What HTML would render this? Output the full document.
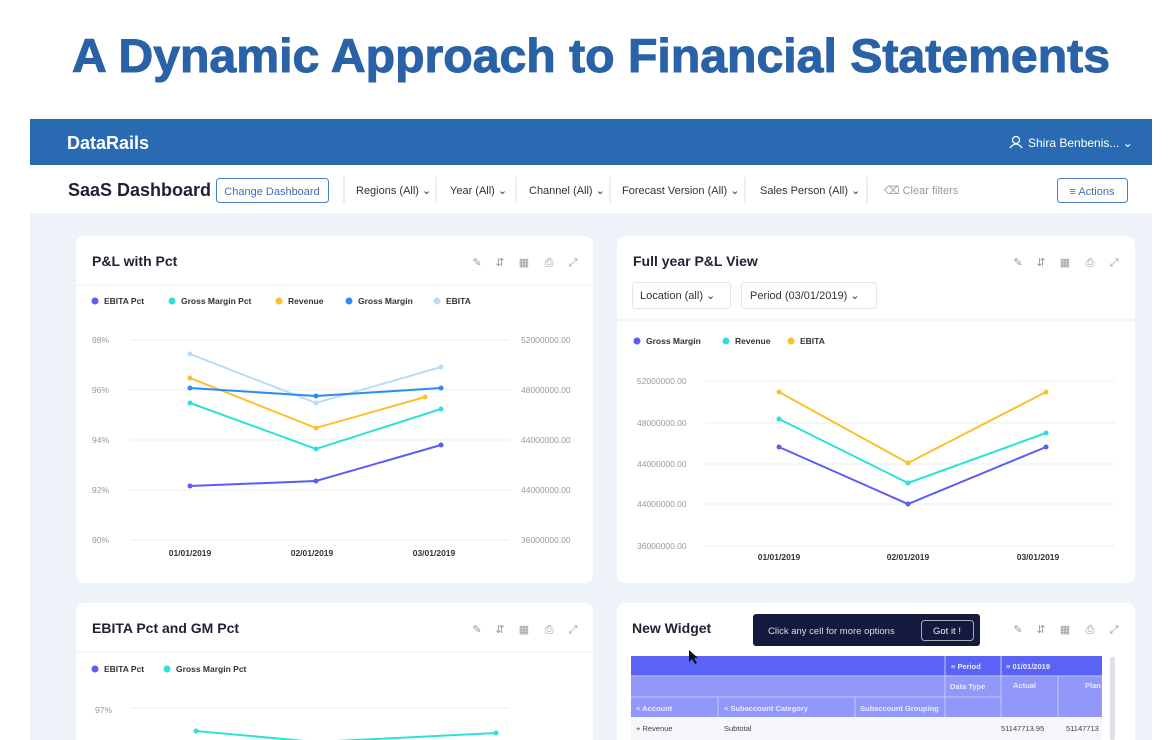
<!DOCTYPE html>
<html><head><meta charset="utf-8"><style>
html,body{margin:0;padding:0;width:1172px;height:740px;overflow:hidden;background:#fff;font-family:"Liberation Sans",sans-serif}
</style></head><body>
<svg width="1172" height="740" viewBox="0 0 1172 740" xmlns="http://www.w3.org/2000/svg" font-family="Liberation Sans, sans-serif">
<defs>
<g id="icons" font-size="11" fill="#999" text-anchor="middle">
<text x="0" y="0">✎</text><text x="23" y="0">⇵</text><text x="47" y="0">▦</text><text x="72" y="0">⎙</text><text x="96" y="0">⤢</text>
</g>
</defs>
<rect width="1172" height="740" fill="#fff"/>
<text x="72" y="72" textLength="1038" lengthAdjust="spacingAndGlyphs" font-size="47" font-weight="bold" fill="#2a62a8" stroke="#2a62a8" stroke-width="1">A Dynamic Approach to Financial Statements</text>
<rect x="30" y="119" width="1122" height="621" fill="#eef3fa"/>
<rect x="30" y="119" width="1122" height="46" fill="#2a6ab2"/>
<text x="67" y="149" font-size="18" font-weight="bold" fill="#fff">DataRails</text>
<circle cx="1016" cy="140" r="3.5" fill="none" stroke="#fff" stroke-width="1.3"/>
<path d="M1010 148 q6 -8 12 0" fill="none" stroke="#fff" stroke-width="1.3"/>
<text x="1028" y="147" font-size="12" fill="#fff">Shira Benbenis...  ⌄</text>
<rect x="30" y="165" width="1122" height="48" fill="#fff"/>
<text x="68" y="196" font-size="18" font-weight="bold" fill="#1e2233">SaaS Dashboard</text>
<rect x="216.5" y="178.5" width="112" height="24" rx="3" fill="#fff" stroke="#4a7fc4"/>
<text x="272" y="195" font-size="11" fill="#3f6fb5" text-anchor="middle">Change Dashboard</text>
<g font-size="11" fill="#333">
<text x="356" y="194">Regions (All) ⌄</text>
<text x="450" y="194">Year (All) ⌄</text>
<text x="529" y="194">Channel (All) ⌄</text>
<text x="622" y="194">Forecast Version (All) ⌄</text>
<text x="760" y="194">Sales Person (All) ⌄</text>
<text x="884" y="194" fill="#999">⌫  Clear filters</text>
</g>
<g stroke="#ddd"><line x1="344" y1="177" x2="344" y2="203"/><line x1="436" y1="177" x2="436" y2="203"/><line x1="516" y1="177" x2="516" y2="203"/><line x1="610" y1="177" x2="610" y2="203"/><line x1="745" y1="177" x2="745" y2="203"/><line x1="867" y1="177" x2="867" y2="203"/></g>
<rect x="1057.5" y="178.5" width="70" height="24" rx="3" fill="#fff" stroke="#4a7fc4"/>
<text x="1092" y="195" font-size="11" fill="#3f6fb5" text-anchor="middle">≡ Actions</text>

<rect x="76" y="236" width="517" height="347" rx="8" fill="#fff"/>
<rect x="617" y="236" width="518" height="347" rx="8" fill="#fff"/>
<rect x="76" y="603" width="517" height="150" rx="8" fill="#fff"/>
<rect x="617" y="603" width="518" height="150" rx="8" fill="#fff"/>
<line x1="76" y1="285" x2="593" y2="285" stroke="#eee"/>
<line x1="617" y1="320" x2="1135" y2="320" stroke="#eee"/>
<line x1="76" y1="652" x2="593" y2="652" stroke="#eee"/>
<g font-size="14" font-weight="bold" fill="#1e2233">
<text x="92" y="266">P&amp;L with Pct</text>
<text x="633" y="266">Full year P&amp;L View</text>
<text x="92" y="633">EBITA Pct and GM Pct</text>
<text x="632" y="633">New Widget</text>
</g>
<use href="#icons" x="477" y="266"/>
<use href="#icons" x="1018" y="266"/>
<use href="#icons" x="477" y="633"/>
<use href="#icons" x="1018" y="633"/>
<rect x="632.5" y="282.5" width="98" height="26" rx="3" fill="#fff" stroke="#e6e6e6"/>
<text x="640" y="299" font-size="11" fill="#333">Location (all)  ⌄</text>
<rect x="741.5" y="282.5" width="135" height="26" rx="3" fill="#fff" stroke="#e6e6e6"/>
<text x="750" y="299" font-size="11" fill="#333">Period (03/01/2019)  ⌄</text>

<g font-size="8.5" font-weight="bold" fill="#333">
<circle cx="95" cy="301" r="3.5" fill="#5b5ef0"/><text x="104" y="304">EBITA Pct</text>
<circle cx="172" cy="301" r="3.5" fill="#2de0d8"/><text x="181" y="304">Gross Margin Pct</text>
<circle cx="279" cy="301" r="3.5" fill="#fbc02d"/><text x="288" y="304">Revenue</text>
<circle cx="349" cy="301" r="3.5" fill="#2b8cf5"/><text x="358" y="304">Gross Margin</text>
<circle cx="437" cy="301" r="3.5" fill="#b8dcf8"/><text x="446" y="304">EBITA</text>
</g>
<g stroke="#e8ecf0"><line x1="130" y1="340" x2="510" y2="340"/><line x1="130" y1="390" x2="510" y2="390"/><line x1="130" y1="440" x2="510" y2="440"/><line x1="130" y1="490" x2="510" y2="490"/><line x1="130" y1="540" x2="510" y2="540"/></g>
<g font-size="8.5" fill="#999"><text x="92" y="343">98%</text><text x="92" y="393">96%</text><text x="92" y="443">94%</text><text x="92" y="493">92%</text><text x="92" y="543">90%</text>
<text x="521" y="343">52000000.00</text><text x="521" y="393">48000000.00</text><text x="521" y="443">44000000.00</text><text x="521" y="493">44000000.00</text><text x="521" y="543">36000000.00</text></g>
<g font-size="8.5" font-weight="bold" fill="#333" text-anchor="middle"><text x="190" y="556">01/01/2019</text><text x="312" y="556">02/01/2019</text><text x="434" y="556">03/01/2019</text></g>
<g fill="none" stroke-width="2">
<polyline points="190,354 316,403 441,367" stroke="#b8dcf8"/>
<polyline points="190,378 316,428 425,397" stroke="#fbc02d"/>
<polyline points="190,403 316,449 441,409" stroke="#2de0d8"/>
<polyline points="190,388 316,396 441,388" stroke="#2b8cf5"/>
<polyline points="190,486 316,481 441,445" stroke="#5b5ef0"/>
</g>
<g><circle cx="190" cy="354" r="2.5" fill="#b8dcf8"/><circle cx="316" cy="403" r="2.5" fill="#b8dcf8"/><circle cx="441" cy="367" r="2.5" fill="#b8dcf8"/>
<circle cx="190" cy="378" r="2.5" fill="#fbc02d"/><circle cx="316" cy="428" r="2.5" fill="#fbc02d"/><circle cx="425" cy="397" r="2.5" fill="#fbc02d"/>
<circle cx="190" cy="403" r="2.5" fill="#2de0d8"/><circle cx="316" cy="449" r="2.5" fill="#2de0d8"/><circle cx="441" cy="409" r="2.5" fill="#2de0d8"/>
<circle cx="190" cy="388" r="2.5" fill="#2b8cf5"/><circle cx="316" cy="396" r="2.5" fill="#2b8cf5"/><circle cx="441" cy="388" r="2.5" fill="#2b8cf5"/>
<circle cx="190" cy="486" r="2.5" fill="#5b5ef0"/><circle cx="316" cy="481" r="2.5" fill="#5b5ef0"/><circle cx="441" cy="445" r="2.5" fill="#5b5ef0"/></g>

<g font-size="8.5" font-weight="bold" fill="#333">
<circle cx="637" cy="341" r="3.5" fill="#5b5ef0"/><text x="646" y="344">Gross Margin</text>
<circle cx="726" cy="341" r="3.5" fill="#2de0d8"/><text x="735" y="344">Revenue</text>
<circle cx="791" cy="341" r="3.5" fill="#fbc02d"/><text x="800" y="344">EBITA</text>
</g>
<g stroke="#e8ecf0"><line x1="705" y1="381" x2="1115" y2="381"/><line x1="705" y1="423" x2="1115" y2="423"/><line x1="705" y1="464" x2="1115" y2="464"/><line x1="705" y1="504" x2="1115" y2="504"/><line x1="705" y1="546" x2="1115" y2="546"/></g>
<g font-size="8.5" fill="#999"><text x="637" y="384">52000000.00</text><text x="637" y="426">48000000.00</text><text x="637" y="467">44000000.00</text><text x="637" y="507">44000000.00</text><text x="637" y="549">36000000.00</text></g>
<g font-size="8.5" font-weight="bold" fill="#333" text-anchor="middle"><text x="779" y="560">01/01/2019</text><text x="908" y="560">02/01/2019</text><text x="1038" y="560">03/01/2019</text></g>
<g fill="none" stroke-width="2">
<polyline points="779,392 908,463 1046,392" stroke="#fbc02d"/>
<polyline points="779,419 908,483 1046,433" stroke="#2de0d8"/>
<polyline points="779,447 908,504 1046,447" stroke="#5b5ef0"/>
</g>
<g><circle cx="779" cy="392" r="2.5" fill="#fbc02d"/><circle cx="908" cy="463" r="2.5" fill="#fbc02d"/><circle cx="1046" cy="392" r="2.5" fill="#fbc02d"/>
<circle cx="779" cy="419" r="2.5" fill="#2de0d8"/><circle cx="908" cy="483" r="2.5" fill="#2de0d8"/><circle cx="1046" cy="433" r="2.5" fill="#2de0d8"/>
<circle cx="779" cy="447" r="2.5" fill="#5b5ef0"/><circle cx="908" cy="504" r="2.5" fill="#5b5ef0"/><circle cx="1046" cy="447" r="2.5" fill="#5b5ef0"/></g>

<g font-size="8.5" font-weight="bold" fill="#333">
<circle cx="95" cy="669" r="3.5" fill="#5b5ef0"/><text x="104" y="672">EBITA Pct</text>
<circle cx="167" cy="669" r="3.5" fill="#2de0d8"/><text x="176" y="672">Gross Margin Pct</text>
</g>
<line x1="130" y1="708" x2="510" y2="708" stroke="#e8ecf0"/>
<text x="95" y="713" font-size="8.5" fill="#999">97%</text>
<polyline points="196,731 316,742 496,733" fill="none" stroke="#2de0d8" stroke-width="2"/>
<circle cx="196" cy="731" r="2.5" fill="#2de0d8"/><circle cx="496" cy="733" r="2.5" fill="#2de0d8"/>

<rect x="631" y="656" width="471" height="20" fill="#5a63f5"/>
<rect x="631" y="676" width="471" height="64" fill="#9198fa"/>
<rect x="631" y="717" width="471" height="23" fill="#f6f7fb"/>
<g stroke="#c5c9fc" stroke-width="1"><line x1="631" y1="676" x2="1102" y2="676"/><line x1="631" y1="697" x2="1001" y2="697"/><line x1="945" y1="656" x2="945" y2="717"/><line x1="1001" y1="656" x2="1001" y2="717"/><line x1="1058" y1="676" x2="1058" y2="717"/><line x1="718" y1="697" x2="718" y2="717"/><line x1="855" y1="697" x2="855" y2="717"/></g>
<g font-size="7.5" font-weight="bold" fill="#e8eaff">
<text x="951" y="669">≡ Period</text><text x="1006" y="669">≡ 01/01/2019</text>
<text x="950" y="689">Data Type</text><text x="1013" y="688">Actual</text><text x="1085" y="688">Plan</text>
<text x="636" y="711">≡ Account</text><text x="724" y="711">≡ Subaccount Category</text><text x="860" y="711">Subaccount Grouping</text>
</g>
<g font-size="7.5" fill="#444"><text x="636" y="731">+ Revenue</text><text x="724" y="731">Subtotal</text><text x="1001" y="731">51147713.95</text><text x="1066" y="731">51147713</text></g>
<rect x="1110" y="657" width="5" height="83" rx="2" fill="#dde1e8"/>
<rect x="753" y="614" width="227" height="32" rx="3" fill="#141a3d"/>
<text x="768" y="634" font-size="9.5" fill="#ddd">Click any cell for more options</text>
<rect x="921.5" y="620.5" width="52" height="20" rx="3" fill="none" stroke="#aaa"/>
<text x="947" y="634" font-size="9.5" fill="#eee" text-anchor="middle">Got it !</text>
<path d="M689 650 l0 12 l3 -3 l3 5 l2 -1 l-3 -5 l4 0 z" fill="#111"/>
</svg>
</body></html>
